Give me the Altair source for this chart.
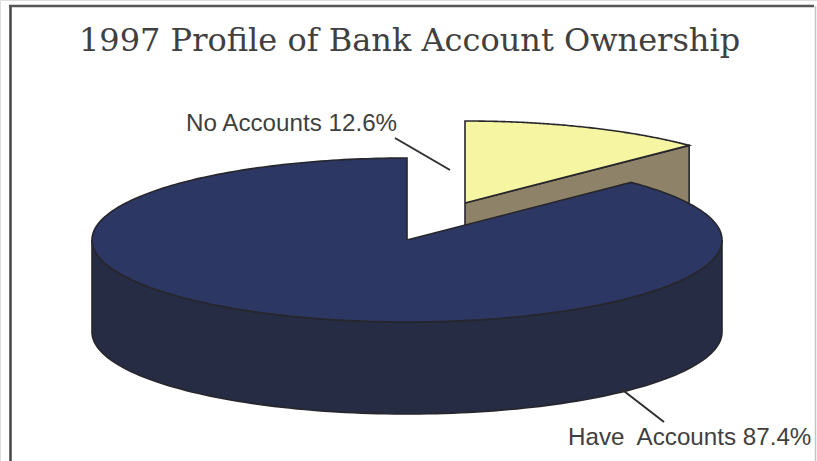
import numpy as np
import pandas as pd
import altair as alt

# Chart content
title_text = "1997 Profile of Bank Account Ownership"
labels = ["No Accounts 12.6%", "Have\u00a0 Accounts 87.4%"]
shares = [12.6, 87.4]

# Tilted-disc geometry of the pie
W, H = 817, 461
cx, cy = 407, 240
rx, ry = 315, 82
depth = 92
offset = (58, -37)   # how far the small slice is pulled out

split = shares[0] / sum(shares) * 2 * np.pi


def rim(start, stop, n=120, dx=0, dy=0):
    """Points on the elliptical rim; angles run clockwise from twelve o'clock."""
    t = np.linspace(start, stop, n)
    return list(zip(cx + dx + rx * np.sin(t), cy + dy - ry * np.cos(t)))


def shape(name, pts):
    return pd.DataFrame(
        [{"part": name, "i": i, "x": p[0], "y": p[1]} for i, p in enumerate(pts)]
    )


ox, oy = offset
slice_rim = rim(0, split, dx=ox, dy=oy)
apex = (cx + ox, cy + oy)
outer = slice_rim[-1]

# Cut face of the pulled-out slice
cut_face = [apex, outer, (outer[0], outer[1] + depth), (apex[0], apex[1] + depth), apex]
slice_top = [apex] + slice_rim + [apex]

# Large slice: visible wall along the front half, then the top face
front = rim(np.pi / 2, 3 * np.pi / 2)
wall = front + [(x, y + depth) for x, y in reversed(front)] + [front[0]]
body_rim = rim(split, 2 * np.pi, n=300)
body_top = [(cx, cy)] + body_rim + [(cx, cy)]

x_scale = alt.Scale(domain=[0, W], range=[0, W], nice=False, zero=False)
y_scale = alt.Scale(domain=[0, H], range=[0, H], nice=False, zero=False)
x_enc = alt.X("x:Q", scale=x_scale, axis=None)
y_enc = alt.Y("y:Q", scale=y_scale, axis=None)


def polygon(df, fill, stroke="#26262c", width=1.6):
    return (
        alt.Chart(df)
        .mark_line(fill=fill, stroke=stroke, strokeWidth=width, strokeJoin="miter", clip=False)
        .encode(x=x_enc, y=y_enc, order="i:Q")
    )


def segment(x0, y0, x1, y1, color="#2e2e30", width=2):
    df = pd.DataFrame({"x": [x0], "y": [y0], "x2": [x1], "y2": [y1]})
    return (
        alt.Chart(df)
        .mark_rule(color=color, strokeWidth=width, clip=False)
        .encode(x=x_enc, y=y_enc, x2="x2:Q", y2="y2:Q")
    )


def caption(text, x, y, font, size, color, **kw):
    df = pd.DataFrame({"x": [x], "y": [y], "t": [text]})
    return (
        alt.Chart(df)
        .mark_text(font=font, fontSize=size, color=color, align="left", baseline="alphabetic", **kw)
        .encode(x=x_enc, y=y_enc, text="t:N")
    )


# Border: top and left run dark, the right side is only a faint line,
# and the lower edge runs off the page.
border = alt.layer(
    segment(10.5, 6, 10.5, H, color="#444444", width=2.5),
    segment(9, 6, 814, 6, color="#555555", width=2.5),
    segment(815.5, 6, 815.5, H, color="#c4c4c4", width=1.5),
)

chart = alt.layer(
    border,
    polygon(shape("cut", cut_face), "#8e8369"),
    polygon(shape("slice", slice_top), "#f6f6a2"),
    polygon(shape("wall", wall), "#272c45"),
    polygon(shape("top", body_top), "#2d3763"),
    segment(395, 138, 450, 170),
    segment(620, 388, 664, 422),
    caption(title_text, 79, 51, "DejaVu Serif", 32, "#404040"),
    caption(labels[0], 186, 131, "Liberation Sans", 24.2, "#3f3f3f"),
    caption(labels[1], 568, 445, "Liberation Sans", 24.2, "#3f3f3f"),
).properties(
    width=W, height=H, padding=0, autosize=alt.AutoSizeParams(type="none")
).configure_view(stroke=None).configure(background="white")

chart.save("out.html", embed_options={"renderer": "svg", "actions": False})
